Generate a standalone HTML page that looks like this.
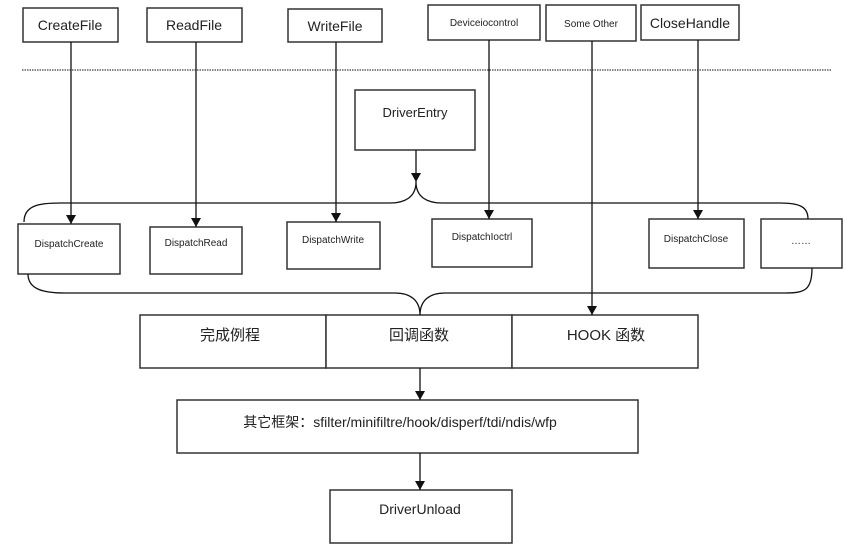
<!DOCTYPE html>
<html><head><meta charset="utf-8"><style>
body{margin:0;background:#fff;}
svg text{font-family:"Liberation Sans","Noto Sans CJK SC",sans-serif;fill:#222;}
</style></head><body>
<svg width="846" height="551" viewBox="0 0 846 551" xmlns="http://www.w3.org/2000/svg">
<defs><marker id="a" markerWidth="10" markerHeight="10" refX="9" refY="5" orient="auto" markerUnits="userSpaceOnUse"><path d="M0,0 L9,5 L0,10 z" fill="#111"/></marker></defs>
<g fill="#fff" stroke="#333" stroke-width="1.5">
<rect x="23" y="8" width="95" height="34"/>
<rect x="147" y="8" width="95" height="34"/>
<rect x="288" y="9" width="94" height="33"/>
<rect x="428" y="5" width="112" height="35"/>
<rect x="546" y="5" width="90" height="36"/>
<rect x="641" y="5" width="98" height="35"/>
<rect x="355" y="90" width="120" height="60"/>
<rect x="18" y="224" width="102" height="50"/>
<rect x="150" y="227" width="92" height="47"/>
<rect x="287" y="222" width="93" height="47"/>
<rect x="432" y="219" width="100" height="48"/>
<rect x="649" y="219" width="95" height="49"/>
<rect x="761" y="219" width="81" height="49"/>
<rect x="140" y="315" width="186" height="53"/>
<rect x="326" y="315" width="186" height="53"/>
<rect x="512" y="315" width="186" height="53"/>
<rect x="177" y="400" width="461" height="53"/>
<rect x="330" y="490" width="182" height="53"/>
</g>
<line x1="22" y1="70" x2="832" y2="70" stroke="#888" stroke-width="2" stroke-dasharray="1.5,1"/>
<g stroke="#111" stroke-width="1.3" fill="none">
<line x1="71" y1="42" x2="71" y2="224" marker-end="url(#a)"/>
<line x1="196" y1="42" x2="196" y2="227" marker-end="url(#a)"/>
<line x1="336" y1="42" x2="336" y2="222" marker-end="url(#a)"/>
<line x1="489" y1="40" x2="489" y2="219" marker-end="url(#a)"/>
<line x1="592" y1="41" x2="592" y2="315" marker-end="url(#a)"/>
<line x1="698" y1="40" x2="698" y2="219" marker-end="url(#a)"/>
<line x1="416" y1="150" x2="416" y2="182" marker-end="url(#a)"/>
<line x1="420" y1="368" x2="420" y2="400" marker-end="url(#a)"/>
<line x1="420" y1="453" x2="420" y2="490" marker-end="url(#a)"/>
<path d="M24,222 C24,205 40,203 60,203 L390,203 C405,203 416,197 416,182 C416,197 427,203 442,203 L780,203 C800,203 808,207 808,219"/>
<path d="M28,274 C28,290 45,293 65,293 L395,293 C410,293 420,300 420,315 C420,300 430,293 445,293 L785,293 C805,293 812,290 812,268"/>
</g>
<g font-size="14" text-anchor="middle">
<text x="70" y="30">CreateFile</text>
<text x="194" y="30">ReadFile</text>
<text x="335" y="31">WriteFile</text>
<text x="484" y="26" font-size="10">Deviceiocontrol</text>
<text x="591" y="27" font-size="10">Some Other</text>
<text x="690" y="28">CloseHandle</text>
<text x="415" y="117" font-size="13">DriverEntry</text>
<g font-size="10">
<text x="69" y="247">DispatchCreate</text>
<text x="196" y="246">DispatchRead</text>
<text x="333" y="243">DispatchWrite</text>
<text x="482" y="240">DispatchIoctrl</text>
<text x="696" y="242">DispatchClose</text>
<text x="801" y="244">……</text>
</g>
<text x="230" y="340" font-size="15">完成例程</text>
<text x="419" y="340" font-size="15">回调函数</text>
<text x="606" y="340" font-size="15">HOOK 函数</text>
<text x="400" y="427" font-size="14">其它框架：sfilter/minifiltre/hook/disperf/tdi/ndis/wfp</text>
<text x="420" y="514" font-size="14">DriverUnload</text>
</g>
</svg>
</body></html>
